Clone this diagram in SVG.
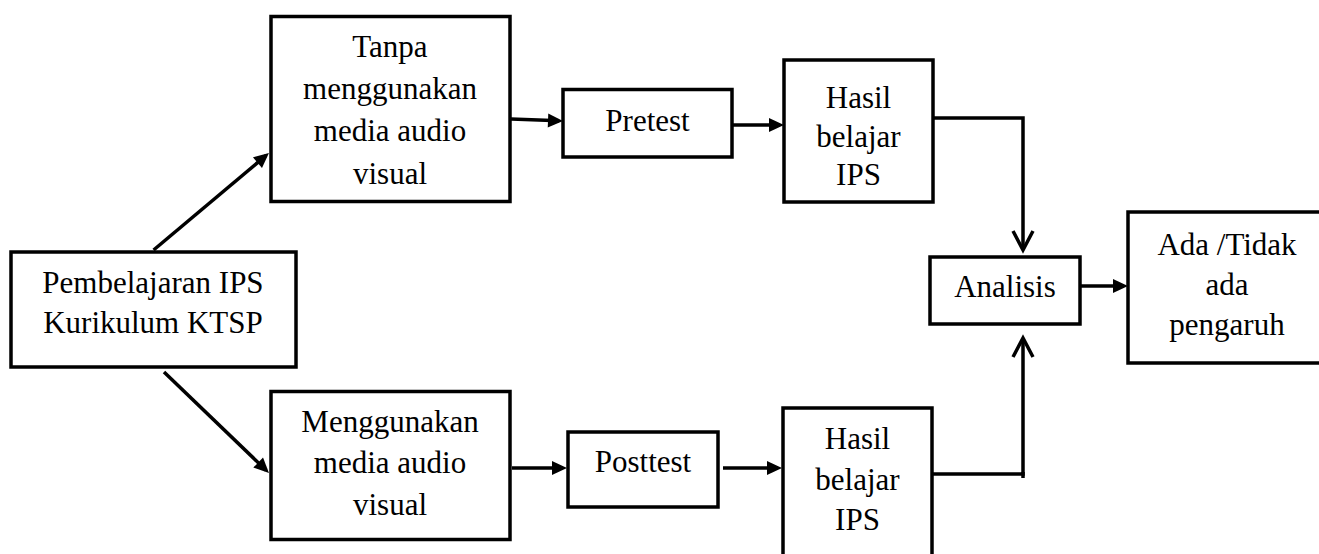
<svg xmlns="http://www.w3.org/2000/svg" width="1319" height="554" viewBox="0 0 1319 554">
<style>
.box{fill:#fff;stroke:#000;stroke-width:3.5}
.t{font-size:31px;fill:#000;text-anchor:middle}
.c{fill:none;stroke:#000;stroke-width:3.5}
</style>
<defs>
<marker id="ah" markerUnits="userSpaceOnUse" markerWidth="16" markerHeight="14" refX="11" refY="7" orient="auto" overflow="visible">
<path d="M0,0 L15,7 L0,14 Z" fill="#000"/>
</marker>
<marker id="av" markerUnits="userSpaceOnUse" markerWidth="20" markerHeight="20" refX="19" refY="10" orient="auto" overflow="visible">
<path d="M0,0 L19,10 L0,20" fill="none" stroke="#000" stroke-width="3.5"/>
</marker>
</defs>
<rect width="1319" height="554" fill="#fff"/>
<g id="connectors">
<line class="c" x1="153.6" y1="250" x2="265.9" y2="155.6" marker-end="url(#ah)"/>
<line class="c" x1="164" y1="372" x2="266.1" y2="470.2" marker-end="url(#ah)"/>
<line class="c" x1="511" y1="119" x2="559" y2="120.8" marker-end="url(#ah)"/>
<line class="c" x1="732" y1="125" x2="780" y2="125" marker-end="url(#ah)"/>
<line class="c" x1="512" y1="468" x2="563" y2="468" marker-end="url(#ah)"/>
<line class="c" x1="723" y1="468" x2="778" y2="468" marker-end="url(#ah)"/>
<polyline class="c" points="933,118 1023,118 1023,250" marker-end="url(#av)"/>
<polyline class="c" points="932,474 1023,474 1023,338" marker-end="url(#av)"/>
<line class="c" x1="1023" y1="472" x2="1023" y2="478"/>
<line class="c" x1="1080" y1="286" x2="1124" y2="286" marker-end="url(#ah)"/>
</g>
<g font-family="Liberation Serif, Times New Roman, serif">
<g id="pembelajaran">
<rect class="box" x="11" y="252" width="285" height="115"/>
<text class="t" x="153" y="293">Pembelajaran IPS</text>
<text class="t" x="153" y="333">Kurikulum KTSP</text>
</g>
<g id="tanpa">
<rect class="box" x="271" y="16.5" width="239" height="185"/>
<text class="t" x="390" y="57">Tanpa</text>
<text class="t" x="390" y="99">menggunakan</text>
<text class="t" x="390" y="141">media audio</text>
<text class="t" x="390" y="184">visual</text>
</g>
<g id="menggunakan">
<rect class="box" x="271" y="391.5" width="239" height="148"/>
<text class="t" x="390" y="432">Menggunakan</text>
<text class="t" x="390" y="473">media audio</text>
<text class="t" x="390" y="515">visual</text>
</g>
<g id="pretest">
<rect class="box" x="563" y="89.5" width="169" height="67.5"/>
<text class="t" x="647.5" y="131">Pretest</text>
</g>
<g id="posttest">
<rect class="box" x="568" y="432" width="150" height="75"/>
<text class="t" x="643" y="472">Posttest</text>
</g>
<g id="hasil1">
<rect class="box" x="784" y="60" width="149" height="142"/>
<text class="t" x="858.5" y="108">Hasil</text>
<text class="t" x="858.5" y="147">belajar</text>
<text class="t" x="858.5" y="185">IPS</text>
</g>
<g id="hasil2">
<rect class="box" x="783" y="408" width="149" height="160"/>
<text class="t" x="857.5" y="449">Hasil</text>
<text class="t" x="857.5" y="490">belajar</text>
<text class="t" x="857.5" y="530">IPS</text>
</g>
<g id="analisis">
<rect class="box" x="930" y="257" width="150" height="67"/>
<text class="t" x="1005" y="297">Analisis</text>
</g>
<g id="ada">
<rect class="box" x="1128" y="212" width="200" height="151"/>
<text class="t" x="1227" y="255">Ada /Tidak</text>
<text class="t" x="1227" y="295">ada</text>
<text class="t" x="1227" y="335">pengaruh</text>
</g>
</g>
</svg>
